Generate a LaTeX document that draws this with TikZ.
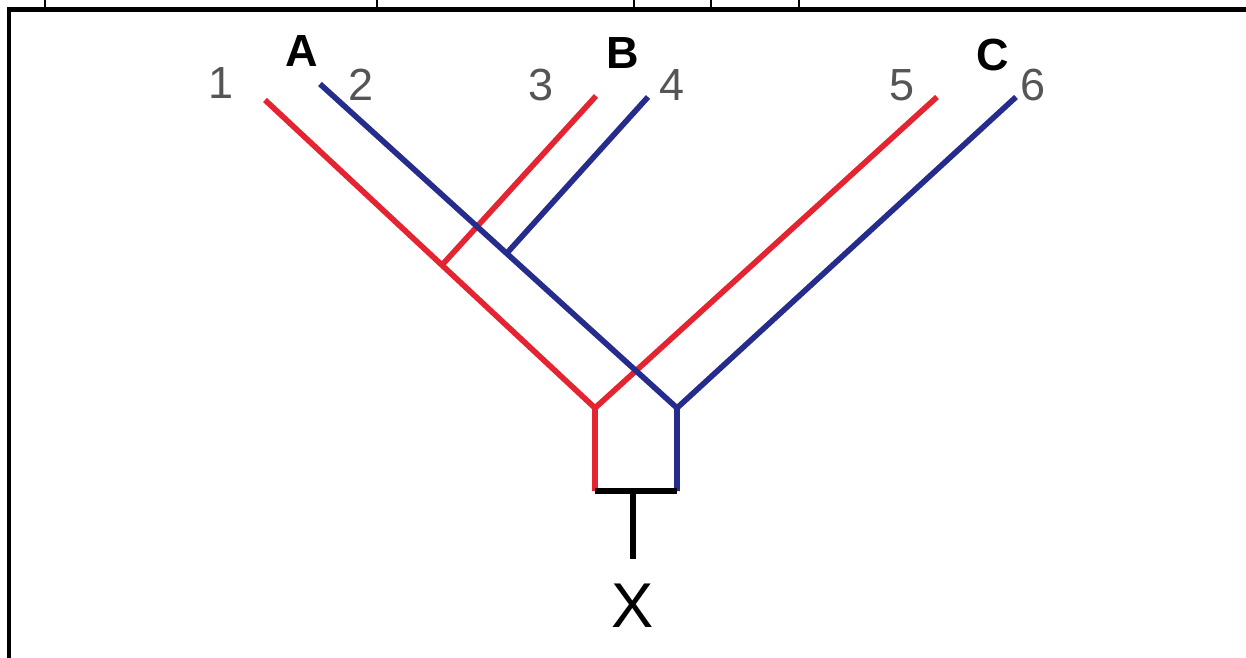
\documentclass[tikz,border=0pt]{standalone}
\usepackage{fontspec}
\setmainfont{Liberation Sans}
\usetikzlibrary{positioning}
\definecolor{lineagered}{RGB}{228,36,48}
\definecolor{lineageblue}{RGB}{38,44,140}
\definecolor{leafgray}{RGB}{85,85,85}
\tikzset{
  redbranch/.style={draw=lineagered,line width=1.6pt},
  bluebranch/.style={draw=lineageblue,line width=1.6pt},
  rootbranch/.style={draw=black,line width=1.6pt},
  frameline/.style={draw=black,line width=1.3pt},
  cutmark/.style={draw=black,line width=0.6pt},
  leaf/.style={font=\fontsize{12.8}{14}\selectfont,text=leafgray,inner sep=0pt},
  species/.style={font=\fontsize{12.8}{14}\selectfont\bfseries,inner sep=0pt},
  rootlabel/.style={font=\fontsize{18}{20}\selectfont,inner sep=0pt}
}
\begin{document}
\begin{tikzpicture}[x=0.01cm,y=-0.01cm]
  \useasboundingbox (0,0) rectangle (1246,658);
  \fill[white] (0,0) rectangle (1246,658);

  % Frame and cut-off marks above it
  \coordinate (framecorner) at (9,9.5);
  \coordinate (frametop) at (1246,9.5);
  \coordinate (framebottom) at (9,658);
  \draw[frameline] (frametop) -- (framecorner) -- (framebottom);
  \foreach \tickx in {45,377,634,711,799} {
    \draw[cutmark] (\tickx,0) -- (\tickx,9);
  }

  % Branch points
  \coordinate (tipone) at (265,100);
  \coordinate (tiptwo) at (320,84);
  \coordinate (tipthree) at (596,96);
  \coordinate (tipfour) at (648,97);
  \coordinate (tipfive) at (937,97);
  \coordinate (tipsix) at (1016,97);
  \coordinate (redjoin) at (442,265);
  \coordinate (bluejoin) at (507,253);
  \coordinate (redroot) at (595,408);
  \coordinate (blueroot) at (677,408);
  \coordinate (redbase) at (595,491);
  \coordinate (bluebase) at (677,491);
  \coordinate (stemtop) at (633,491);
  \coordinate (stembottom) at (633,559);

  % Red lineage
  \draw[redbranch] (tipone) -- (redroot) -- (redbase);
  \draw[redbranch] (tipthree) -- (redjoin);
  \draw[redbranch] (tipfive) -- (redroot);

  % Blue lineage
  \draw[bluebranch] (tiptwo) -- (blueroot) -- (bluebase);
  \draw[bluebranch] (tipfour) -- (bluejoin);
  \draw[bluebranch] (tipsix) -- (blueroot);

  % Common root
  \draw[rootbranch] (redbase) -- (bluebase);
  \draw[rootbranch] (stemtop) -- (stembottom);

  % Labels
  \node[leaf] (labone) at (221,83) {1};
  \node[leaf] (labtwo) at (361,85) {2};
  \node[leaf] (labthree) at (541,85) {3};
  \node[leaf] (labfour) at (672,85) {4};
  \node[leaf] (labfive) at (902,85) {5};
  \node[leaf] (labsix) at (1033,85) {6};
  \node[species] (specA) at (302,51) {A};
  \node[species] (specB) at (623,53) {B};
  \node[species] (specC) at (993,55) {C};
  \node[rootlabel] (ancestor) at (633,606) {X};
\end{tikzpicture}
\end{document}
